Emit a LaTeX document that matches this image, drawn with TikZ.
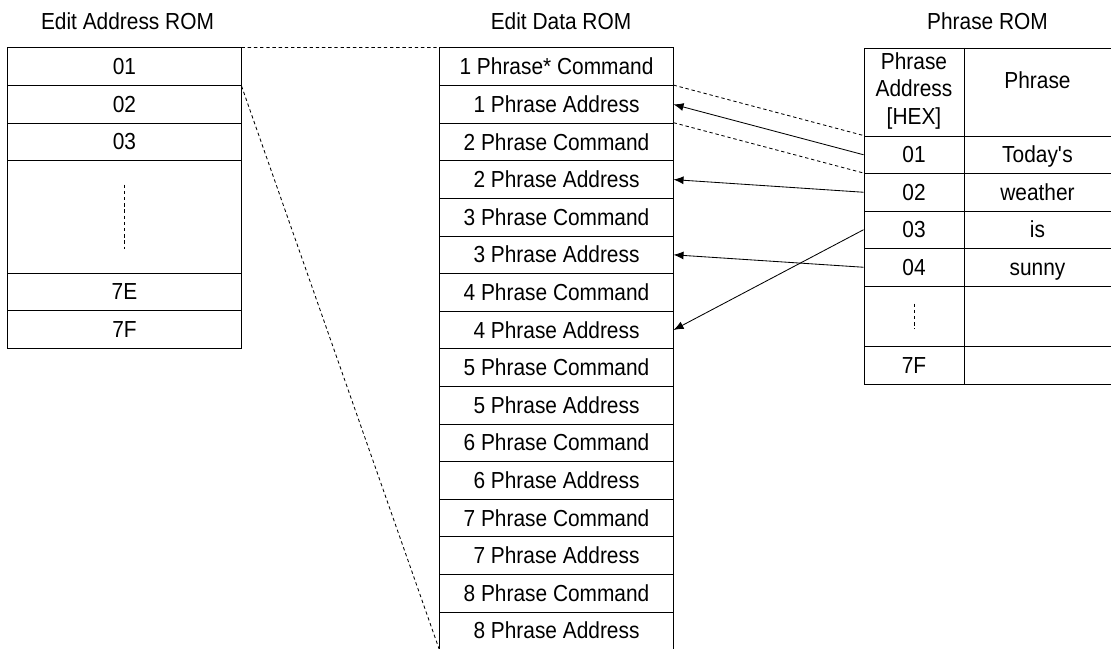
\documentclass[tikz,border=0pt]{standalone}
\usepackage{fontspec}
\setmainfont{Liberation Sans}[FakeStretch=0.9]
\usetikzlibrary{arrows.meta}
\begin{document}
\begin{tikzpicture}[x=0.025cm, y=-0.025cm, line width=0.7pt,
  every node/.style={font=\fontsize{16.5}{19.5}\selectfont, inner sep=0pt},
  txt/.style={text height=12pt, text depth=0.4pt},
  cell/.style={draw, txt, minimum width=5.825cm, minimum height=0.94cm},
  pcell/.style={txt, minimum width=2.5cm, minimum height=0.9375cm},
  dsh/.style={dash pattern=on 2.4pt off 2pt, line width=0.6pt},
  ptr/.style={-{Latex[length=2.5mm,width=2mm]}, line width=0.6pt}]
  \useasboundingbox (0,0) rectangle (1111,649);
  % titles
  \node (eatitle) at (127.5,21) {Edit Address ROM};
  \node (edtitle) at (561,21) {Edit Data ROM};
  \node (prtitle) at (987.5,21) {Phrase ROM};
  % edit address ROM
  \foreach \t [count=\i] in {01,02,03}
    \node[cell, minimum height=0.9375cm] (ea\t) at (124.5,29.25+37.5*\i) {\t};
  \node[cell, minimum height=2.8125cm] (eagap) at (124.5,216.75) {};
  \draw[dsh] ([yshift=0.8cm]eagap.center) -- ([yshift=-0.8cm]eagap.center);
  \node[cell, minimum height=0.9375cm] (ea7E) at (124.5,291.75) {7E};
  \node[cell, minimum height=0.9375cm] (ea7F) at (124.5,329.25) {7F};
  % edit data ROM
  \foreach \n in {1,...,8}
    \node[cell] (cmd\n) at (556.5,-8.4+75.2*\n) {\n\ Phrase\ifnum\n=1 *\fi\ Command};
  \foreach \n in {1,...,7}
    \node[cell] (adr\n) at (556.5,29.2+75.2*\n) {\n\ Phrase Address};
  \node[cell, draw=none] (adr8) at (556.5,630.8) {8 Phrase Address};
  \draw (adr8.north west) -- (adr8.south west) (adr8.north east) -- (adr8.south east);
  % phrase ROM
  \draw (1111,48) -| (864,384) -- (1111,384);
  \draw (964,48) -- (964,384);
  \foreach \y in {136,173.5,211,248.5,286,346}
    \draw (864,\y) -- (1111,\y);
  \node[align=center] (hexhd) at (914,91) {Phrase\\Address\\{[HEX]}};
  \node (phhd) at (1037.5,80) {Phrase};
  \foreach \a/\p [count=\i] in {01/Today\textquotesingle s, 02/weather, 03/is, 04/sunny} {
    \node[pcell] (ph\a) at (914,117.25+37.5*\i) {\a};
    \node[txt] (pw\a) at (1037.5,117.25+37.5*\i) {\p};
  }
  \node[pcell, minimum height=1.5cm] (phgap) at (914,316) {};
  \draw[dsh] ([yshift=0.31cm]phgap.center) -- ([yshift=-0.31cm]phgap.center);
  \node[pcell] (ph7F) at (914,365) {7F};
  % links
  \draw[dsh] (ea01.north east) -- (cmd1.north west);
  \draw[dsh] (ea01.south east) -- (adr8.south west);
  \draw[dsh] (adr1.north east) -- (ph01.north west);
  \draw[dsh] (cmd2.north east) -- (ph02.north west);
  \draw[ptr] (ph01.west) -- (adr1.east);
  \draw[ptr] (ph02.west) -- (adr2.east);
  \draw[ptr] (ph04.west) -- (adr3.east);
  \draw[ptr] (ph03.west) -- (adr4.east);
\end{tikzpicture}
\end{document}
